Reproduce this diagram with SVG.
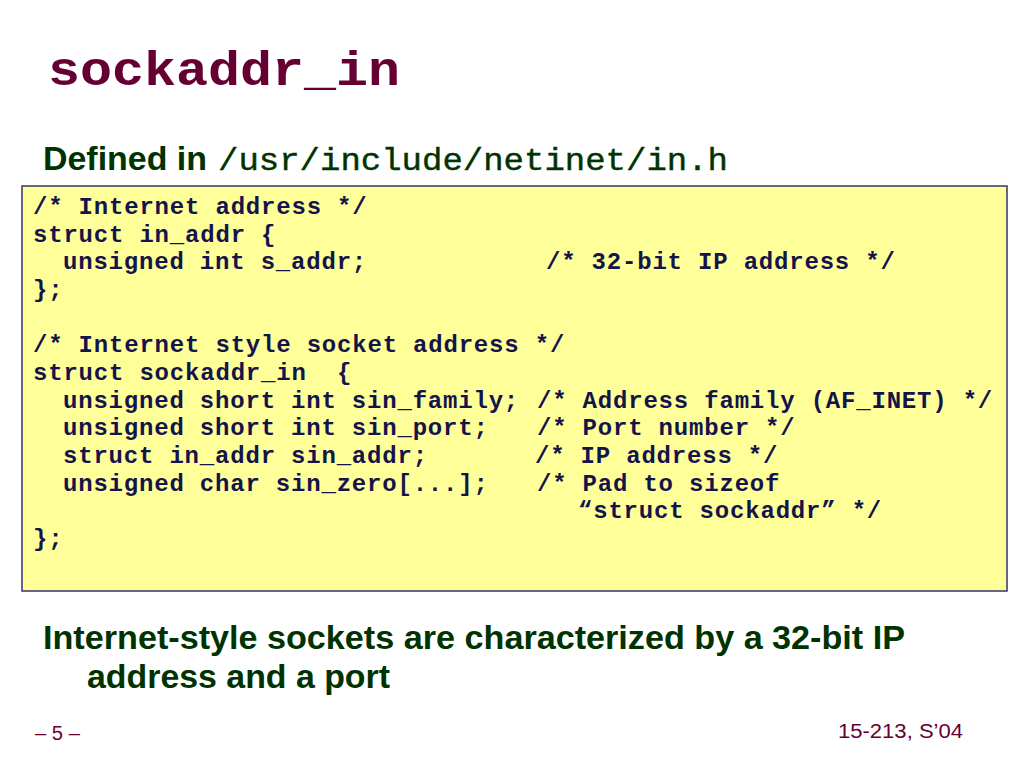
<svg xmlns="http://www.w3.org/2000/svg" width="1024" height="768" viewBox="0 0 1024 768">
<style>
.title{font-family:"Liberation Mono","Courier New",monospace;font-weight:bold;font-size:48px;fill:#660033}
.head{font-family:"Liberation Sans",Arial,sans-serif;font-weight:bold;font-size:34px;fill:#003300}
.path{font-family:"Liberation Mono","Courier New",monospace;font-size:31px;fill:#003300;stroke:#003300;stroke-width:0.4px}
.code{font-family:"Liberation Mono","Courier New",monospace;font-weight:bold;font-size:24px;fill:#14144a;letter-spacing:0.8px}
.foot{font-family:"Liberation Sans",Arial,sans-serif;font-size:20px;fill:#660033}
</style>
<rect width="1024" height="768" fill="#ffffff"/>
<g id="title">
<text class="title" x="48" y="85" textLength="352" lengthAdjust="spacingAndGlyphs">sockaddr_in</text>
</g>
<g id="defined">
<text class="head" x="43" y="170" textLength="164" lengthAdjust="spacingAndGlyphs">Defined in</text>
<text class="path" x="218" y="170" textLength="510" lengthAdjust="spacingAndGlyphs">/usr/include/netinet/in.h</text>
</g>
<g id="codebox">
<rect x="22" y="186" width="985" height="405" fill="#ffff99" stroke="#33336b" stroke-width="1.5"/>
<text class="code" x="33" y="214">/* Internet address */</text>
<text class="code" x="33" y="242">struct in_addr {</text>
<text class="code" x="63" y="269">unsigned int s_addr;</text>
<text class="code" x="546" y="269">/* 32-bit IP address */</text>
<text class="code" x="33" y="297">};</text>
<text class="code" x="33" y="352">/* Internet style socket address */</text>
<text class="code" x="33" y="380" xml:space="preserve">struct sockaddr_in  {</text>
<text class="code" x="63" y="408">unsigned short int sin_family;</text>
<text class="code" x="537" y="408">/* Address family (AF_INET) */</text>
<text class="code" x="63" y="435">unsigned short int sin_port;</text>
<text class="code" x="537" y="435">/* Port number */</text>
<text class="code" x="63" y="463">struct in_addr sin_addr;</text>
<text class="code" x="535" y="463">/* IP address */</text>
<text class="code" x="63" y="491">unsigned char sin_zero[...];</text>
<text class="code" x="537" y="491">/* Pad to sizeof</text>
<text class="code" x="578" y="518">“struct sockaddr” */</text>
<text class="code" x="33" y="546">};</text>
</g>
<g id="summary">
<text class="head" x="43" y="649" textLength="862" lengthAdjust="spacingAndGlyphs">Internet-style sockets are characterized by a 32-bit IP</text>
<text class="head" x="87" y="688" textLength="303" lengthAdjust="spacingAndGlyphs">address and a port</text>
</g>
<g id="footer">
<text class="foot" x="35" y="740" textLength="45" lengthAdjust="spacingAndGlyphs">– 5 –</text>
<text class="foot" x="838" y="738" textLength="125" lengthAdjust="spacingAndGlyphs">15-213, S’04</text>
</g>
</svg>
